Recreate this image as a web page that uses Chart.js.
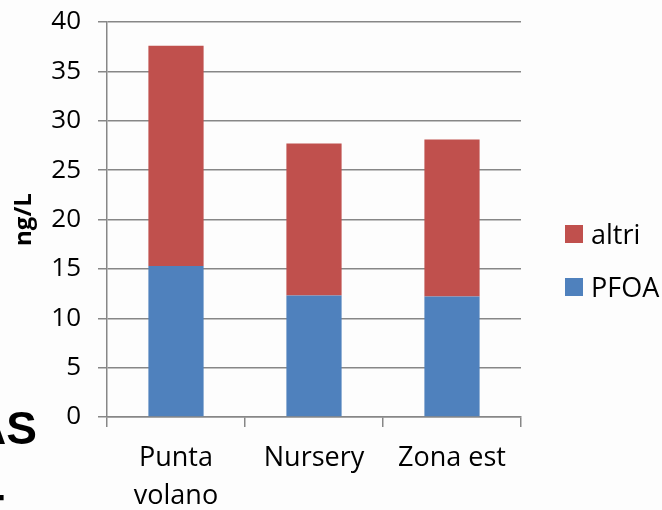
<!DOCTYPE html>
<html>
<head>
<meta charset="utf-8">
<script src="https://cdn.jsdelivr.net/npm/chart.js@4.4.1/dist/chart.umd.min.js"></script>
<style>
  html, body { margin: 0; padding: 0; background: #fdfdfd; overflow: hidden; }
  #wrap { position: relative; width: 662px; height: 510px; }
  #legend { position: absolute; left: 565px; top: 207px; font-family: "Open Sans", sans-serif; font-size: 27px; color: #000; white-space: nowrap; }
  .item { height: 53px; display: flex; align-items: center; }
  .box { width: 18px; height: 18px; margin-right: 8px; }
  .frag { position: absolute; font-family: "Liberation Sans", Arial, sans-serif; font-weight: bold; font-size: 46px; color: #000; line-height: 1; }
</style>
</head>
<body>
<div id="wrap">
  <canvas id="chart" width="662" height="510"></canvas>
  <div id="legend"></div>
  <div class="frag" style="left:-27px; top:405px;">AS</div>
  <div class="frag" style="left:-24px; top:488px;">T</div>
</div>
<script>
// values (ng/L)
const categories = [["Punta", "volano"], "Nursery", "Zona est"];
const pfoa = [15.3, 12.3, 12.2];
const altri = [22.3, 15.4, 15.9];
const yTicks = [0, 5, 10, 15, 20, 25, 30, 35, 40];

const font = "'Open Sans', sans-serif";
const gridColor = "#878787";

const ctx = document.getElementById("chart").getContext("2d");
const chart = new Chart(ctx, {
    type: "bar",
    data: {
        labels: categories,
        datasets: [
            {label: "PFOA", data: pfoa, backgroundColor: "#4F81BD"},
            {label: "altri", data: altri, backgroundColor: "#C0504D"}
        ]
    },
    options: {
        responsive: false,
        animation: false,
        layout: {padding: {top: 22, right: 141, left: 0, bottom: 0}},
        datasets: {bar: {barPercentage: 0.4, categoryPercentage: 1}},
        plugins: {legend: {display: false}, tooltip: {enabled: false}},
        scales: {
            x: {
                stacked: true,
                afterFit: (scale) => { scale.height = 93; },
                grid: {drawOnChartArea: false, drawTicks: true, tickLength: 10, color: gridColor, lineWidth: 1.5},
                border: {color: gridColor, width: 1.5},
                ticks: {color: "#000", padding: 12, font: {family: font, size: 27, lineHeight: 1.42}, maxRotation: 0}
            },
            y: {
                stacked: true,
                min: 0,
                max: 40,
                afterFit: (scale) => {
                    scale.width = 107;
                    scale.paddingTop = 0;
                    scale.paddingBottom = 0;
                },
                afterBuildTicks: (scale) => { scale.ticks = yTicks.map(v => ({value: v})); },
                grid: {color: gridColor, lineWidth: 1.5, tickLength: 9},
                border: {color: gridColor, width: 1.5},
                ticks: {color: "#000", padding: 17, autoSkip: false, font: {family: font, size: 26}},
                title: {display: true, text: "ng/L", color: "#000", padding: {top: 10, bottom: 0}, font: {family: font, size: 24, weight: "bold"}}
            }
        }
    }
});

// legend, top item is the top segment
const legend = document.getElementById("legend");
chart.data.datasets.slice().reverse().forEach(ds => {
    const item = document.createElement("div");
    item.className = "item";
    item.innerHTML = `<span class="box" style="background:${ds.backgroundColor}"></span>${ds.label}`;
    legend.appendChild(item);
});
</script>
</body>
</html>
